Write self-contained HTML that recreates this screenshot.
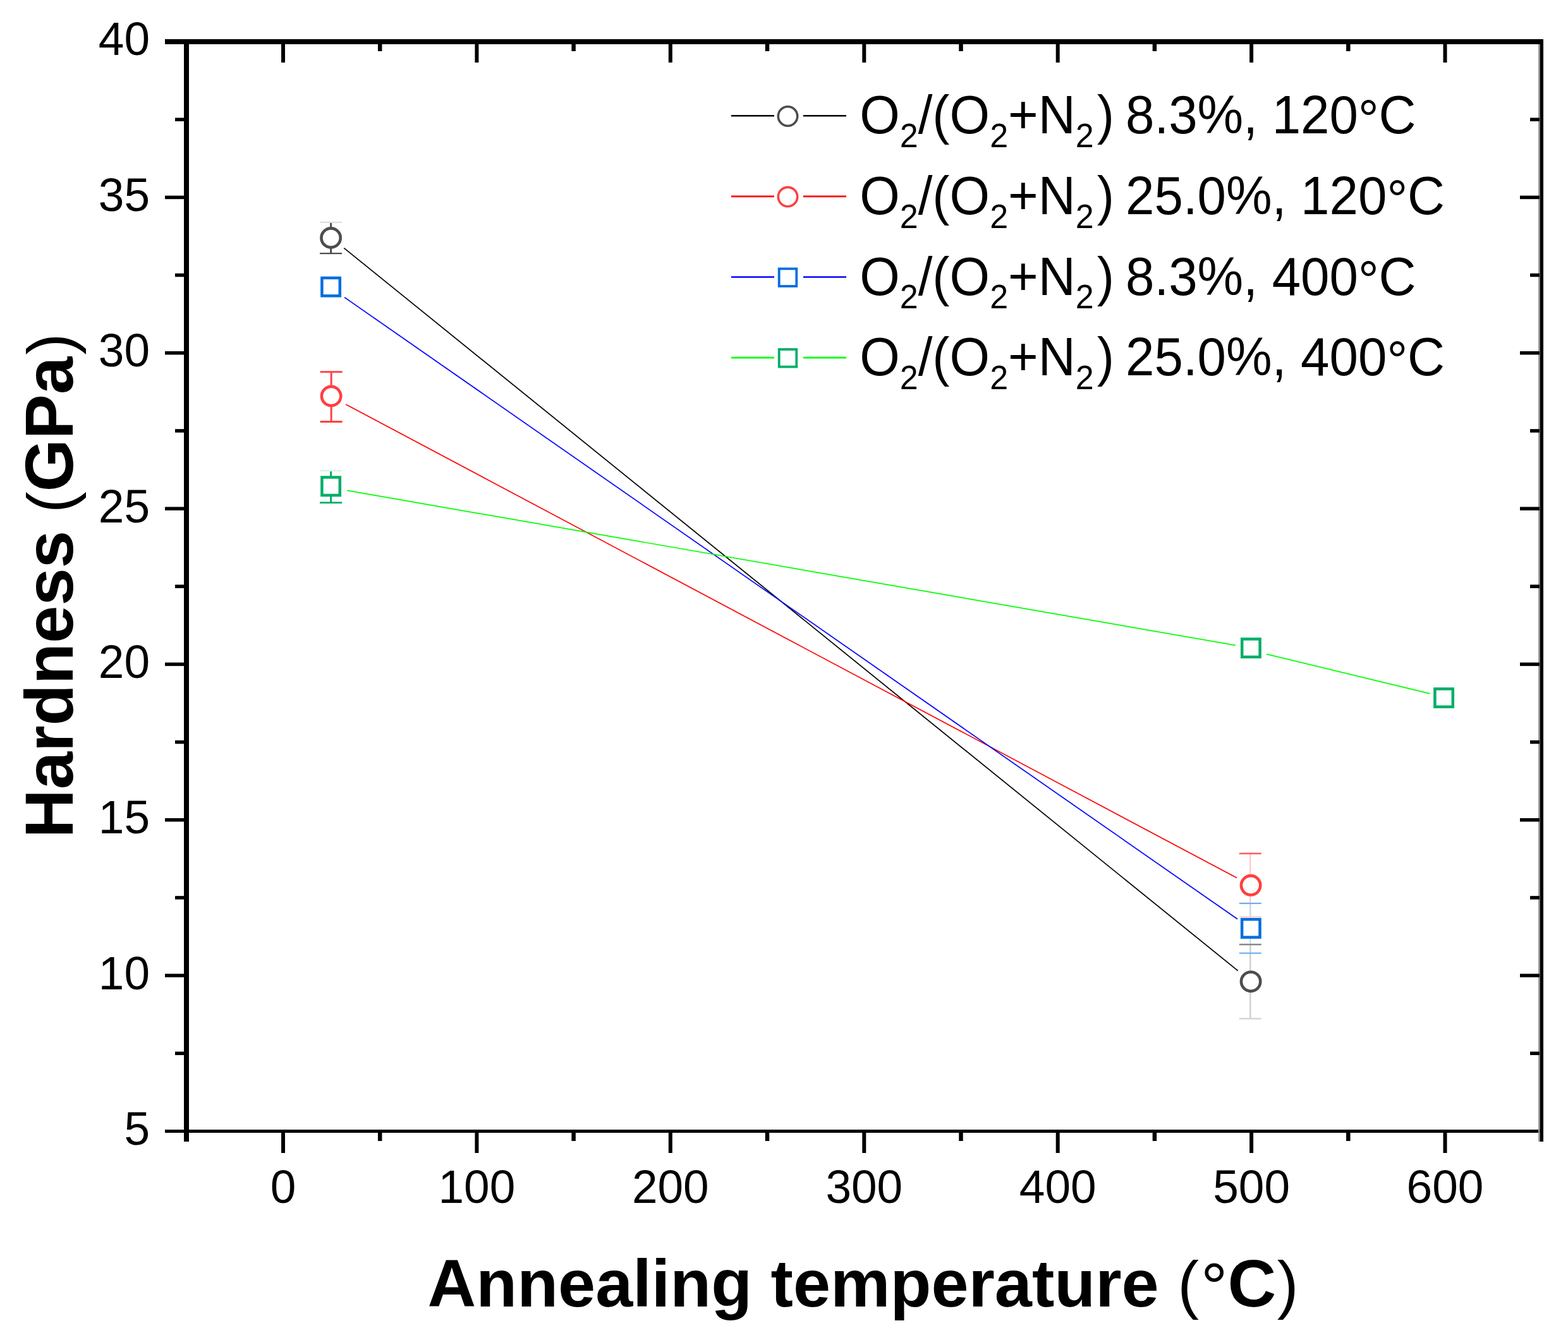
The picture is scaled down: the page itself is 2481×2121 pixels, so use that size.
<!DOCTYPE html><html><head><meta charset="utf-8"><title>Hardness vs annealing temperature</title>
<style>html,body{margin:0;padding:0;background:#fff;overflow:hidden;}svg{display:block;}text{font-family:"Liberation Sans", Arial, Helvetica, sans-serif;}</style></head><body>
<svg width="2481" height="2121" viewBox="0 0 2481 2121">
<rect width="2481" height="2121" fill="#fff"/>
<line x1="544.3" y1="392.6" x2="1958.8" y2="1536.6" stroke="#000000" stroke-width="1.7"/>
<line x1="547.1" y1="640.0" x2="1957.0" y2="1389.6" stroke="#ff0000" stroke-width="1.7"/>
<line x1="545.0" y1="470.6" x2="1958.0" y2="1454.8" stroke="#0000ff" stroke-width="1.7"/>
<line x1="549.3" y1="776.4" x2="1954.9" y2="1021.4" stroke="#00ff00" stroke-width="1.7"/>
<line x1="2003.9" y1="1035.3" x2="2262.4" y2="1097.8" stroke="#00ff00" stroke-width="1.7"/>
<line x1="523.6" y1="351.9" x2="523.6" y2="376.5" stroke="#4d4d4d" stroke-width="3.0"/>
<line x1="523.6" y1="376.5" x2="523.6" y2="401.1" stroke="#4d4d4d" stroke-width="3.0"/>
<line x1="524.1" y1="588.6" x2="524.1" y2="628.05" stroke="#ff3f3f" stroke-width="3.0"/>
<line x1="524.1" y1="628.05" x2="524.1" y2="667.5" stroke="#ff3f3f" stroke-width="3.0"/>
<line x1="523.6" y1="745.0" x2="523.6" y2="770.3" stroke="#00ae68" stroke-width="3.0"/>
<line x1="523.6" y1="770.3" x2="523.6" y2="795.6" stroke="#00ae68" stroke-width="3.0"/>
<line x1="1978.3" y1="1351.0" x2="1978.3" y2="1401.15" stroke="#ffc2c2" stroke-width="2.0"/>
<line x1="1978.3" y1="1401.15" x2="1978.3" y2="1451.3" stroke="#ffc2c2" stroke-width="2.0"/>
<line x1="1978.3" y1="1429.9" x2="1978.3" y2="1469.3000000000002" stroke="#b9d7f7" stroke-width="2.0"/>
<line x1="1978.3" y1="1469.3000000000002" x2="1978.3" y2="1508.7" stroke="#b9d7f7" stroke-width="2.0"/>
<line x1="1978.3" y1="1495.0" x2="1978.3" y2="1553.7" stroke="#cfcfcf" stroke-width="2.4"/>
<line x1="1978.3" y1="1553.7" x2="1978.3" y2="1612.4" stroke="#cfcfcf" stroke-width="2.4"/>
<line x1="506.1" y1="351.9" x2="541.1" y2="351.9" stroke="#dedede" stroke-width="2.4"/>
<line x1="506.1" y1="401.1" x2="541.1" y2="401.1" stroke="#4d4d4d" stroke-width="2.4"/>
<line x1="506.6" y1="588.6" x2="541.6" y2="588.6" stroke="#ff3f3f" stroke-width="2.8"/>
<line x1="506.6" y1="667.5" x2="541.6" y2="667.5" stroke="#ff3f3f" stroke-width="2.8"/>
<line x1="506.1" y1="745.0" x2="541.1" y2="745.0" stroke="#dcf2e8" stroke-width="2.6"/>
<line x1="506.1" y1="795.6" x2="541.1" y2="795.6" stroke="#00ae68" stroke-width="2.6"/>
<line x1="1960.8" y1="1351.0" x2="1995.8" y2="1351.0" stroke="#ff5a5a" stroke-width="2.4"/>
<line x1="1960.8" y1="1451.3" x2="1995.8" y2="1451.3" stroke="#ffd2d2" stroke-width="2.4"/>
<line x1="1960.8" y1="1429.9" x2="1995.8" y2="1429.9" stroke="#6eaef0" stroke-width="2.4"/>
<line x1="1960.8" y1="1508.7" x2="1995.8" y2="1508.7" stroke="#7db6f0" stroke-width="2.4"/>
<line x1="1960.8" y1="1495.0" x2="1995.8" y2="1495.0" stroke="#888888" stroke-width="2.4"/>
<line x1="1960.8" y1="1612.4" x2="1995.8" y2="1612.4" stroke="#d2d2d2" stroke-width="2.4"/>
<circle cx="523.6" cy="376.5" r="15.15" fill="#fff" stroke="#4d4d4d" stroke-width="4.6"/>
<circle cx="1979.1" cy="1553.7" r="15.15" fill="#fff" stroke="#4d4d4d" stroke-width="4.6"/>
<circle cx="524.1" cy="627.0" r="15.15" fill="#fff" stroke="#ff3f3f" stroke-width="4.6"/>
<circle cx="1979.1" cy="1401.3" r="15.15" fill="#fff" stroke="#ff3f3f" stroke-width="4.6"/>
<rect x="509.4" y="439.9" width="28.4" height="28.4" fill="#fff" stroke="#006ee0" stroke-width="4.5"/>
<rect x="1965.1" y="1455.2" width="28.4" height="28.4" fill="#fff" stroke="#006ee0" stroke-width="4.5"/>
<rect x="509.4" y="755.5" width="28.4" height="28.4" fill="#fff" stroke="#00ae68" stroke-width="4.5"/>
<rect x="1965.2" y="1011.5" width="28.4" height="28.4" fill="#fff" stroke="#00ae68" stroke-width="4.5"/>
<rect x="2270.4" y="1090.4" width="28.4" height="28.4" fill="#fff" stroke="#00ae68" stroke-width="4.5"/>
<g stroke="#000" fill="none">
<line x1="261" y1="66" x2="2442" y2="66" stroke-width="8"/>
<line x1="261" y1="1790.5" x2="2442" y2="1790.5" stroke-width="5"/>
<line x1="295" y1="62" x2="295" y2="1807" stroke-width="8"/>
<line x1="2435.3" y1="70" x2="2435.3" y2="1807" stroke="#9a9a9a" stroke-width="2.6"/>
<line x1="2439.3" y1="62" x2="2439.3" y2="1807" stroke-width="5.4"/>
<line x1="277" y1="1667.3" x2="291" y2="1667.3" stroke-width="5.5"/>
<line x1="2421" y1="1667.3" x2="2436" y2="1667.3" stroke-width="5.5"/>
<line x1="261" y1="1544.1" x2="291" y2="1544.1" stroke-width="5.5"/>
<line x1="2405" y1="1544.1" x2="2436" y2="1544.1" stroke-width="5.5"/>
<line x1="277" y1="1420.9" x2="291" y2="1420.9" stroke-width="5.5"/>
<line x1="2421" y1="1420.9" x2="2436" y2="1420.9" stroke-width="5.5"/>
<line x1="261" y1="1297.8" x2="291" y2="1297.8" stroke-width="5.5"/>
<line x1="2405" y1="1297.8" x2="2436" y2="1297.8" stroke-width="5.5"/>
<line x1="277" y1="1174.6" x2="291" y2="1174.6" stroke-width="5.5"/>
<line x1="2421" y1="1174.6" x2="2436" y2="1174.6" stroke-width="5.5"/>
<line x1="261" y1="1051.4" x2="291" y2="1051.4" stroke-width="5.5"/>
<line x1="2405" y1="1051.4" x2="2436" y2="1051.4" stroke-width="5.5"/>
<line x1="277" y1="928.2" x2="291" y2="928.2" stroke-width="5.5"/>
<line x1="2421" y1="928.2" x2="2436" y2="928.2" stroke-width="5.5"/>
<line x1="261" y1="805.1" x2="291" y2="805.1" stroke-width="5.5"/>
<line x1="2405" y1="805.1" x2="2436" y2="805.1" stroke-width="5.5"/>
<line x1="277" y1="681.9" x2="291" y2="681.9" stroke-width="5.5"/>
<line x1="2421" y1="681.9" x2="2436" y2="681.9" stroke-width="5.5"/>
<line x1="261" y1="558.7" x2="291" y2="558.7" stroke-width="5.5"/>
<line x1="2405" y1="558.7" x2="2436" y2="558.7" stroke-width="5.5"/>
<line x1="277" y1="435.5" x2="291" y2="435.5" stroke-width="5.5"/>
<line x1="2421" y1="435.5" x2="2436" y2="435.5" stroke-width="5.5"/>
<line x1="261" y1="312.4" x2="291" y2="312.4" stroke-width="5.5"/>
<line x1="2405" y1="312.4" x2="2436" y2="312.4" stroke-width="5.5"/>
<line x1="277" y1="189.2" x2="291" y2="189.2" stroke-width="5.5"/>
<line x1="2421" y1="189.2" x2="2436" y2="189.2" stroke-width="5.5"/>
<line x1="448.0" y1="1793" x2="448.0" y2="1825" stroke-width="6"/>
<line x1="448.0" y1="70" x2="448.0" y2="99" stroke-width="6"/>
<line x1="601.2" y1="1793" x2="601.2" y2="1806" stroke-width="6.5"/>
<line x1="601.2" y1="70" x2="601.2" y2="81" stroke-width="6.5"/>
<line x1="754.4" y1="1793" x2="754.4" y2="1825" stroke-width="6"/>
<line x1="754.4" y1="70" x2="754.4" y2="99" stroke-width="6"/>
<line x1="907.6" y1="1793" x2="907.6" y2="1806" stroke-width="6.5"/>
<line x1="907.6" y1="70" x2="907.6" y2="81" stroke-width="6.5"/>
<line x1="1060.8" y1="1793" x2="1060.8" y2="1825" stroke-width="6"/>
<line x1="1060.8" y1="70" x2="1060.8" y2="99" stroke-width="6"/>
<line x1="1214.0" y1="1793" x2="1214.0" y2="1806" stroke-width="6.5"/>
<line x1="1214.0" y1="70" x2="1214.0" y2="81" stroke-width="6.5"/>
<line x1="1367.3" y1="1793" x2="1367.3" y2="1825" stroke-width="6"/>
<line x1="1367.3" y1="70" x2="1367.3" y2="99" stroke-width="6"/>
<line x1="1520.5" y1="1793" x2="1520.5" y2="1806" stroke-width="6.5"/>
<line x1="1520.5" y1="70" x2="1520.5" y2="81" stroke-width="6.5"/>
<line x1="1673.7" y1="1793" x2="1673.7" y2="1825" stroke-width="6"/>
<line x1="1673.7" y1="70" x2="1673.7" y2="99" stroke-width="6"/>
<line x1="1826.9" y1="1793" x2="1826.9" y2="1806" stroke-width="6.5"/>
<line x1="1826.9" y1="70" x2="1826.9" y2="81" stroke-width="6.5"/>
<line x1="1980.1" y1="1793" x2="1980.1" y2="1825" stroke-width="6"/>
<line x1="1980.1" y1="70" x2="1980.1" y2="99" stroke-width="6"/>
<line x1="2133.3" y1="1793" x2="2133.3" y2="1806" stroke-width="6.5"/>
<line x1="2133.3" y1="70" x2="2133.3" y2="81" stroke-width="6.5"/>
<line x1="2286.5" y1="1793" x2="2286.5" y2="1825" stroke-width="6"/>
<line x1="2286.5" y1="70" x2="2286.5" y2="99" stroke-width="6"/>
</g>
<g font-size="73" fill="#000">
<text transform="translate(237,1811.9) scale(1,1.02)" text-anchor="end">5</text>
<text transform="translate(237,1565.5) scale(1,1.02)" text-anchor="end">10</text>
<text transform="translate(237,1319.2) scale(1,1.02)" text-anchor="end">15</text>
<text transform="translate(237,1072.8) scale(1,1.02)" text-anchor="end">20</text>
<text transform="translate(237,826.5) scale(1,1.02)" text-anchor="end">25</text>
<text transform="translate(237,580.1) scale(1,1.02)" text-anchor="end">30</text>
<text transform="translate(237,333.8) scale(1,1.02)" text-anchor="end">35</text>
<text transform="translate(237,87.4) scale(1,1.02)" text-anchor="end">40</text>
<text transform="translate(448.0,1904) scale(1,1.02)" text-anchor="middle">0</text>
<text transform="translate(754.4,1904) scale(1,1.02)" text-anchor="middle">100</text>
<text transform="translate(1060.8,1904) scale(1,1.02)" text-anchor="middle">200</text>
<text transform="translate(1367.3,1904) scale(1,1.02)" text-anchor="middle">300</text>
<text transform="translate(1673.7,1904) scale(1,1.02)" text-anchor="middle">400</text>
<text transform="translate(1980.1,1904) scale(1,1.02)" text-anchor="middle">500</text>
<text transform="translate(2286.5,1904) scale(1,1.02)" text-anchor="middle">600</text>
</g>
<text transform="translate(676.5,2068) scale(1,1.0)" font-size="106.25" font-weight="bold">Annealing temperature <tspan font-weight="normal" font-size="101.5" dx="0">(</tspan><tspan font-weight="normal" font-size="106" dy="5" dx="3">°</tspan><tspan dy="-5">C</tspan><tspan font-weight="normal" font-size="101.5" dx="1.5">)</tspan></text>
<text transform="translate(114.5,1326.5) rotate(-90) scale(1,1.0)" font-size="106.8" font-weight="bold">Hardness <tspan font-weight="normal" font-size="101.5" dx="-2">(</tspan>GPa<tspan font-weight="normal" font-size="101.5" dx="3">)</tspan></text>
<line x1="1157" y1="183.3" x2="1225" y2="183.3" stroke="#000000" stroke-width="2.6"/>
<line x1="1271" y1="183.3" x2="1339" y2="183.3" stroke="#000000" stroke-width="2.6"/>
<circle cx="1246.5" cy="184.0" r="15.2" fill="#fff" stroke="#4d4d4d" stroke-width="3.6"/>
<text transform="translate(1360.2,211.3) scale(1,1.045)" font-size="81.7">O<tspan font-size="52" dy="21">2</tspan><tspan dy="-21">/(O</tspan><tspan font-size="52" dy="21">2</tspan><tspan dy="-21">+N</tspan><tspan font-size="52" dy="21">2</tspan><tspan dy="-21" dx="5">)</tspan><tspan dx="-4.5"> 8.3%, 120</tspan><tspan dy="6">°</tspan><tspan dy="-6">C</tspan></text>
<line x1="1157" y1="310.9" x2="1225" y2="310.9" stroke="#ff0000" stroke-width="2.6"/>
<line x1="1271" y1="310.9" x2="1339" y2="310.9" stroke="#ff0000" stroke-width="2.6"/>
<circle cx="1246.5" cy="311.6" r="15.2" fill="#fff" stroke="#ff3f3f" stroke-width="3.6"/>
<text transform="translate(1360.2,338.9) scale(1,1.045)" font-size="81.7">O<tspan font-size="52" dy="21">2</tspan><tspan dy="-21">/(O</tspan><tspan font-size="52" dy="21">2</tspan><tspan dy="-21">+N</tspan><tspan font-size="52" dy="21">2</tspan><tspan dy="-21" dx="5">)</tspan><tspan dx="-4.5"> 25.0%, 120</tspan><tspan dy="6">°</tspan><tspan dy="-6">C</tspan></text>
<line x1="1157" y1="438.5" x2="1225" y2="438.5" stroke="#0000ff" stroke-width="2.6"/>
<line x1="1271" y1="438.5" x2="1339" y2="438.5" stroke="#0000ff" stroke-width="2.6"/>
<rect x="1232.7" y="425.4" width="27.6" height="27.6" fill="#fff" stroke="#006ee0" stroke-width="3.8"/>
<text transform="translate(1360.2,466.5) scale(1,1.045)" font-size="81.7">O<tspan font-size="52" dy="21">2</tspan><tspan dy="-21">/(O</tspan><tspan font-size="52" dy="21">2</tspan><tspan dy="-21">+N</tspan><tspan font-size="52" dy="21">2</tspan><tspan dy="-21" dx="5">)</tspan><tspan dx="-4.5"> 8.3%, 400</tspan><tspan dy="6">°</tspan><tspan dy="-6">C</tspan></text>
<line x1="1157" y1="566.1" x2="1225" y2="566.1" stroke="#00ff00" stroke-width="2.6"/>
<line x1="1271" y1="566.1" x2="1339" y2="566.1" stroke="#00ff00" stroke-width="2.6"/>
<rect x="1232.7" y="553.0" width="27.6" height="27.6" fill="#fff" stroke="#00ae68" stroke-width="3.8"/>
<text transform="translate(1360.2,594.1) scale(1,1.045)" font-size="81.7">O<tspan font-size="52" dy="21">2</tspan><tspan dy="-21">/(O</tspan><tspan font-size="52" dy="21">2</tspan><tspan dy="-21">+N</tspan><tspan font-size="52" dy="21">2</tspan><tspan dy="-21" dx="5">)</tspan><tspan dx="-4.5"> 25.0%, 400</tspan><tspan dy="6">°</tspan><tspan dy="-6">C</tspan></text>
</svg></body></html>
